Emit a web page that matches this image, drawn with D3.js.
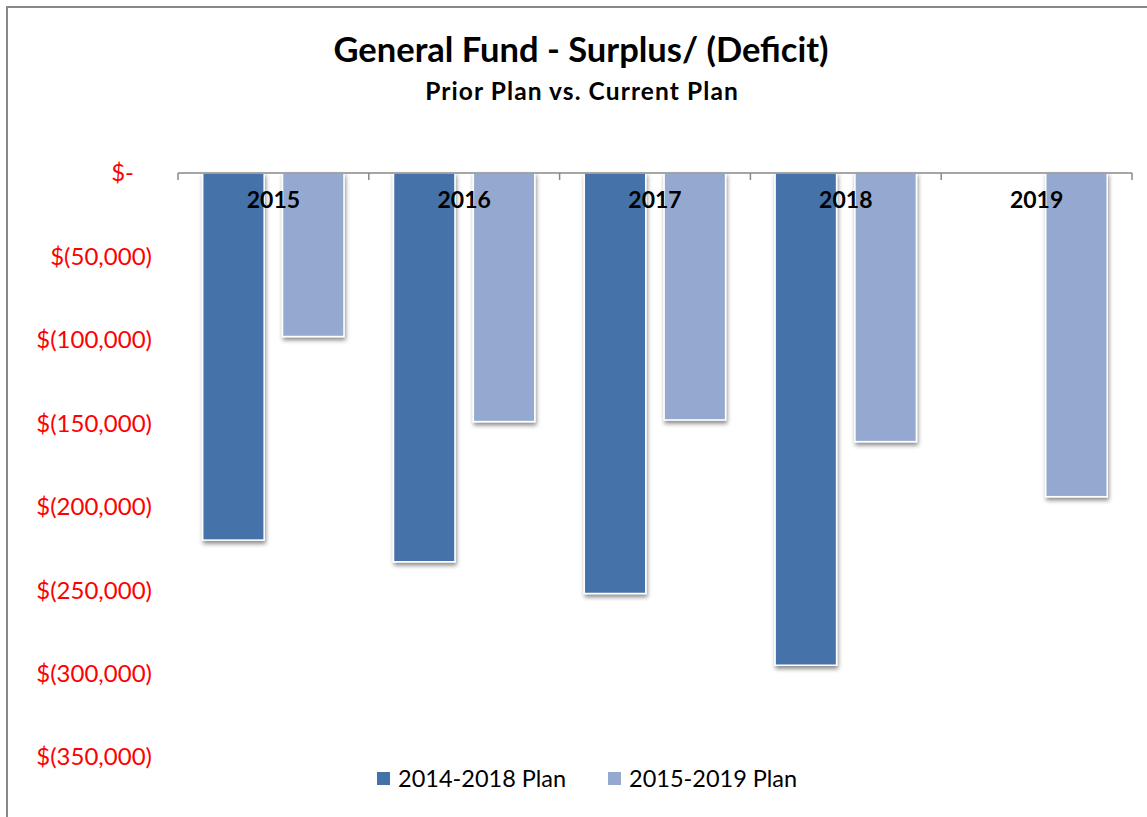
<!DOCTYPE html>
<html><head><meta charset="utf-8">
<script src="https://cdn.jsdelivr.net/npm/d3@7"></script>
<style>body{margin:0;background:#fff}svg{display:block}text{font-family:Lato,"Open Sans",sans-serif}</style>
</head><body><svg id="c" width="1147" height="817"></svg>
<script>
const categories = ["2015","2016","2017","2018","2019"];
const seriesNames = ["2014-2018 Plan","2015-2019 Plan"];
const prior = [-220000,-233000,-252000,-295000,null];
const current = [-98000,-149000,-148000,-161000,-194000];
const yTicks = [0,-50000,-100000,-150000,-200000,-250000,-300000,-350000];
const colors = ["#4472a8","#95a9d0"];

const svg = d3.select("#c");
const defs=svg.append("defs");
const f=defs.append("filter").attr("id","sh").attr("x","-20%").attr("y","-5%").attr("width","150%").attr("height","115%");
f.append("feDropShadow").attr("dx",1).attr("dy",3).attr("stdDeviation",2.2).attr("flood-color","#000").attr("flood-opacity",0.45);

// frame
svg.append("rect").attr("x",7).attr("y",7).attr("width",1160).attr("height",830).attr("fill","none").attr("stroke","#888").attr("stroke-width",2);

svg.append("text").attr("x",581).attr("y",62).attr("text-anchor","middle").attr("font-size",34.5).attr("font-weight","bold").text("General Fund - Surplus/ (Deficit)");
svg.append("text").attr("x",582).attr("y",100).attr("text-anchor","middle").attr("font-size",24.5).attr("letter-spacing",1.1).attr("font-weight","bold").text("Prior Plan vs. Current Plan");

const x=d3.scaleBand().domain(categories).range([178,1132]).paddingInner(0).paddingOuter(0);
const x1=d3.scaleBand().domain([0,1]).range([24.7,166]).paddingInner(0.23);
const y=d3.scaleLinear().domain([-350000,0]).range([757,173]);

const data=categories.map((c,i)=>({c,vals:[prior[i],current[i]]}));
const g=svg.append("g");
data.forEach(d=>{
  d.vals.forEach((v,j)=>{
    if(v==null) return;
    g.append("rect").attr("x",x(d.c)+x1(j)).attr("y",y(0)).attr("width",x1.bandwidth()).attr("height",y(v)-y(0))
      .attr("fill",colors[j]).attr("stroke","#fff").attr("stroke-width",1.5).attr("filter","url(#sh)");
  });
});

// x axis at top (zero)
const xa=svg.append("g").attr("transform",`translate(0,${y(0)})`);
xa.append("line").attr("x1",178).attr("x2",1132).attr("stroke","#888").attr("stroke-width",1.5);
const bounds=categories.map(c=>x(c)).concat([1132]);
xa.selectAll("line.t").data(bounds).join("line").attr("class","t").attr("x1",d=>d).attr("x2",d=>d).attr("y1",0).attr("y2",7).attr("stroke","#888").attr("stroke-width",1.5);
xa.selectAll("text").data(categories).join("text").attr("x",d=>x(d)+x.bandwidth()/2).attr("y",35).attr("text-anchor","middle").attr("font-size",23).attr("font-weight","bold").attr("fill","#000").text(d=>d);

// y labels
const fmt=v=>v===0?"$-":"$("+d3.format(",")(-v)+")";
svg.selectAll("text.y").data(yTicks).join("text").attr("class","y").attr("x",d=>d===0?134:152).attr("y",d=>y(d)).attr("dy","0.35em").attr("text-anchor","end").attr("font-size",24).attr("fill","#ff0000").text(fmt);

// legend
const lg=svg.append("g");
const lx=[377,608];
seriesNames.forEach((s,i)=>{
  lg.append("rect").attr("x",lx[i]).attr("y",772).attr("width",13).attr("height",13).attr("fill",colors[i]);
  lg.append("text").attr("x",lx[i]+21).attr("y",779).attr("dy","0.35em").attr("font-size",23.5).attr("fill","#000").text(s);
});
</script></body></html>
